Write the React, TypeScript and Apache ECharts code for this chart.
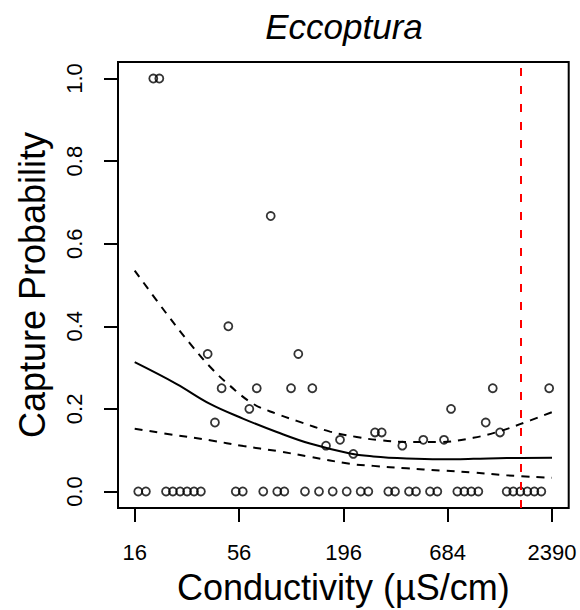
import React, { useEffect, useRef } from "react";
import * as echarts from "echarts";

// ---- data ----
const titleText = "Eccoptura";
const xAxisTitle = "Conductivity (µS/cm)";
const yAxisTitle = "Capture Probability";

const xTickLabels = [16, 56, 196, 684, 2390];
const yTickLabels = [0, 0.2, 0.4, 0.6, 0.8, 1.0];

// sites with zero captures
const zeroConductivity = [
  16.7, 18.3, 23.3, 25.3, 27.6, 30.0, 32.6, 35.4, 53.8, 58.5, 74.8, 88.5, 96.3,
  123.4, 146.0, 172.1, 203.6, 240.8, 263.8, 335.4, 363.4, 429.9, 467.5, 553.1,
  603.7, 767.5, 834.7, 907.8, 987.4, 1388, 1502, 1634, 1777, 1933, 2102,
];

// sites with captures
const detectConductivity = [
  20.0, 21.5, 38.4, 41.9, 45.4, 49.2, 63.3, 69.2, 81.8, 104.4, 113.9, 134.8,
  158.8, 187.9, 220.4, 285.9, 309.8, 396.7, 510.4, 654.3, 711.7, 1079, 1174,
  1281, 2310,
];
const detectProbability = [
  1.0, 1.0, 0.333, 0.167, 0.25, 0.4, 0.2, 0.25, 0.667, 0.25, 0.333, 0.25,
  0.111, 0.125, 0.091, 0.143, 0.143, 0.111, 0.125, 0.125, 0.2, 0.167, 0.25,
  0.143, 0.25,
];

// fitted curve
const fitConductivity = [16, 26.5, 39.5, 59, 88, 131, 212, 280, 418, 624, 930, 1388, 2390];
const fitProbability = [0.313, 0.26, 0.212, 0.176, 0.144, 0.116, 0.092, 0.085, 0.08, 0.078, 0.079, 0.081, 0.0815];

// upper confidence band
const upperConductivity = [16, 23.5, 31.1, 39.5, 50.2, 66.4, 87.9, 111.8, 166.6, 229.6, 303, 418, 624, 930, 1281, 1628, 2390];
const upperProbability = [0.535, 0.43, 0.358, 0.302, 0.256, 0.212, 0.188, 0.171, 0.145, 0.132, 0.124, 0.12, 0.12, 0.13, 0.146, 0.163, 0.192];

// lower confidence band
const lowerConductivity = [16, 26.5, 39.5, 59, 88, 131, 212, 280, 418, 624, 930, 1388, 2390];
const lowerProbability = [0.152, 0.136, 0.124, 0.11, 0.098, 0.084, 0.067, 0.062, 0.056, 0.051, 0.046, 0.039, 0.033];

// threshold (red dashed line)
const thresholdConductivity = 1640;

// ---- chart ----
const FONT = "'Liberation Sans', Arial, Helvetica, sans-serif";

export default function App() {
  const ref = useRef<HTMLDivElement>(null);

  useEffect(() => {
    if (!ref.current) return;
    const chart = echarts.init(ref.current, undefined, { renderer: "svg" });

    const lnMin = Math.log(xTickLabels[0]);
    const lnMax = Math.log(xTickLabels[xTickLabels.length - 1]);
    const pad = 0.04 * (lnMax - lnMin);

    const pts = [
      ...zeroConductivity.map((c) => [Math.log(c), 0]),
      ...detectConductivity.map((c, i) => [Math.log(c), detectProbability[i]]),
    ];
    const toLine = (xs: number[], ys: number[]) => xs.map((c, i) => [Math.log(c), ys[i]]);

    const dashed = [8, 7];
    const curve = (data: number[][], type: any) => ({
      type: "line",
      data,
      smooth: 0.4,
      showSymbol: false,
      symbol: "none",
      lineStyle: { color: "#000", width: 2, type },
      silent: true,
    });

    chart.setOption({
      animation: false,
      backgroundColor: "#ffffff",
      textStyle: { fontFamily: FONT },
      grid: {
        left: 118,
        top: 62,
        right: 11.3,
        bottom: 98.3,
        show: true,
        borderColor: "#000",
        borderWidth: 2,
        backgroundColor: "transparent",
      },
      graphic: [
        {
          type: "text",
          x: 344,
          y: 26,
          style: {
            text: titleText,
            fontSize: 35,
            fontStyle: "italic",
            fontFamily: FONT,
            fill: "#000",
            textAlign: "center",
            textVerticalAlign: "middle",
          },
        },
      ],
      xAxis: {
        type: "value",
        min: lnMin - pad,
        max: lnMax + pad,
        axisLine: { show: false, onZero: false },
        axisTick: {
          show: true,
          inside: false,
          length: 14,
          lineStyle: { color: "#000", width: 2 },
          customValues: xTickLabels.map((v) => Math.log(v)),
        },
        axisLabel: {
          show: true,
          customValues: xTickLabels.map((v) => Math.log(v)),
          formatter: (v: number) => String(Math.round(Math.exp(v))),
          fontSize: 22,
          color: "#000",
          fontFamily: FONT,
          margin: 33,
        },
        splitLine: { show: false },
        name: xAxisTitle,
        nameLocation: "middle",
        nameGap: 61,
        nameTextStyle: { fontSize: 36, color: "#000", fontFamily: FONT },
      },
      yAxis: {
        type: "value",
        min: -0.04,
        max: 1.04,
        axisLine: { show: false, onZero: false },
        axisTick: {
          show: true,
          inside: false,
          length: 14,
          lineStyle: { color: "#000", width: 2 },
          customValues: yTickLabels,
        },
        axisLabel: {
          show: true,
          customValues: yTickLabels,
          formatter: (v: number) => v.toFixed(1),
          rotate: 90,
          fontSize: 22,
          color: "#000",
          fontFamily: FONT,
          margin: 33,
        },
        splitLine: { show: false },
        name: yAxisTitle,
        nameLocation: "middle",
        nameGap: 68,
        nameTextStyle: { fontSize: 36, color: "#000", fontFamily: FONT },
      },
      series: [
        {
          ...curve(toLine(fitConductivity, fitProbability), "solid"),
          markLine: {
            silent: true,
            symbol: ["none", "none"],
            label: { show: false },
            lineStyle: { color: "#ff0000", width: 2, type: [8, 10] },
            data: [{ xAxis: Math.log(thresholdConductivity) }],
          },
        },
        curve(toLine(upperConductivity, upperProbability), dashed),
        curve(toLine(lowerConductivity, lowerProbability), dashed),
        {
          type: "scatter",
          data: pts,
          symbol: "circle",
          symbolSize: 8,
          itemStyle: { color: "transparent", borderColor: "#000", borderWidth: 1.8 },
          silent: true,
        },
      ],
    });

    return () => chart.dispose();
  }, []);

  return (
    <div
      ref={ref}
      style={{ position: "fixed", left: 0, top: 0, width: 580, height: 610, background: "#fff" }}
    />
  );
}
